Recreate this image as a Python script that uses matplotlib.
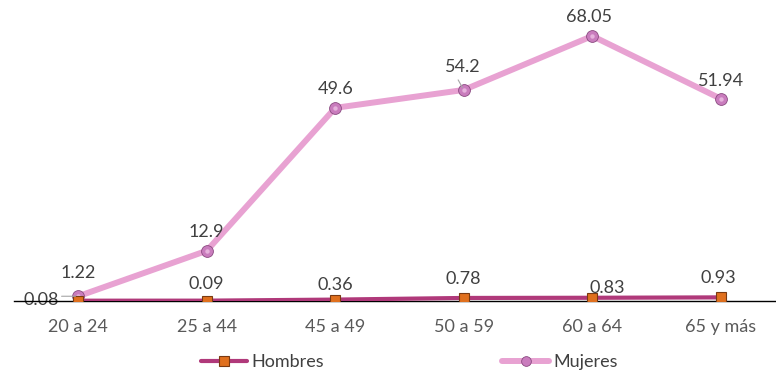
import matplotlib
matplotlib.use("Agg")
import matplotlib.pyplot as plt
from matplotlib.lines import Line2D

categories = ["20 a 24", "25 a 44", "45 a 49", "50 a 59", "60 a 64", "65 y más"]
hombres = [0.08, 0.09, 0.36, 0.78, 0.83, 0.93]
mujeres = [1.22, 12.9, 49.6, 54.2, 68.05, 51.94]

plt.rcParams['font.family'] = ['Lato', 'DejaVu Sans']

fig = plt.figure(figsize=(7.76, 3.76), dpi=100)
ax = fig.add_axes([14/776, 75/376, 1 - 14/776, 301/376])
x = list(range(len(categories)))

ax.plot(x, hombres, color='#b0397a', lw=3.0, marker='s', ms=7.5,
        mfc='#e0701e', mec='#7a3a12', mew=0.8, zorder=3,
        solid_capstyle='round')
ax.plot(x, mujeres, color='#e8a2d2', lw=4.3, marker='o', ms=8.5,
        mfc='#c97cbd', mec='#8a4a80', mew=0.6, zorder=2,
        solid_capstyle='round')
ax.plot(x, mujeres, ls='none', marker='o', ms=3.2, mfc='#e6b2dc', mec='none',
        zorder=2.5)

ax.set_xlim(-0.5, 5.43)
ax.set_ylim(0, 77.3)
for s in ['top', 'right', 'left']:
    ax.spines[s].set_visible(False)
ax.spines['bottom'].set_color('black')
ax.spines['bottom'].set_linewidth(1.0)
ax.set_yticks([])
ax.set_xticks(x)
ax.set_xticklabels(categories, fontsize=13, color='#595959')
ax.tick_params(axis='x', length=0, pad=13)

lab_col = '#404040'
# Mujeres labels
muj_off = [(0, 11), (0, 8), (0, 8), (-1, 11), (-2, 8), (0, 7)]
for i, v in enumerate(mujeres):
    ax.annotate(f"{v:g}", (x[i], v), xytext=muj_off[i], textcoords='offset points',
                ha='center', va='bottom', fontsize=13, color=lab_col)
# Hombres labels
hom_off = [(-27, -5), (0, 6), (0, 4.5), (0, 8), (11, 1), (-2, 8.5)]
for i, v in enumerate(hombres):
    ax.annotate(f"{v:g}", (x[i], v), xytext=hom_off[i], textcoords='offset points',
                ha='center', va='bottom', fontsize=13, color=lab_col, zorder=1)
# small leader lines
ax.annotate("", (x[0], mujeres[0]), xytext=(-14, 0), textcoords='offset points',
            arrowprops=dict(arrowstyle='-', color='#a6a6a6', lw=0.8))
ax.annotate("", (x[3], mujeres[3]), xytext=(-5, 9), textcoords='offset points',
            arrowprops=dict(arrowstyle='-', color='#a6a6a6', lw=0.8))

h1 = Line2D([], [], color='#b0397a', lw=3.0, marker='s', ms=7.5,
            mfc='#e0701e', mec='#7a3a12', mew=0.8, solid_capstyle='round')
h2 = Line2D([], [], color='#e8a2d2', lw=4.3, marker='o', ms=7,
            mfc='#c97cbd', mec='#8a4a80', mew=0.6, solid_capstyle='round')
leg = fig.legend([h1, h2], ['Hombres', 'Mujeres'], loc='center',
                 bbox_to_anchor=(409/776, 1 - 362/376), ncol=2,
                 frameon=False, fontsize=13, handlelength=2.6, columnspacing=9.9,
                 handletextpad=0.2, labelcolor='#404040')

fig.savefig("out.png", dpi=100)
